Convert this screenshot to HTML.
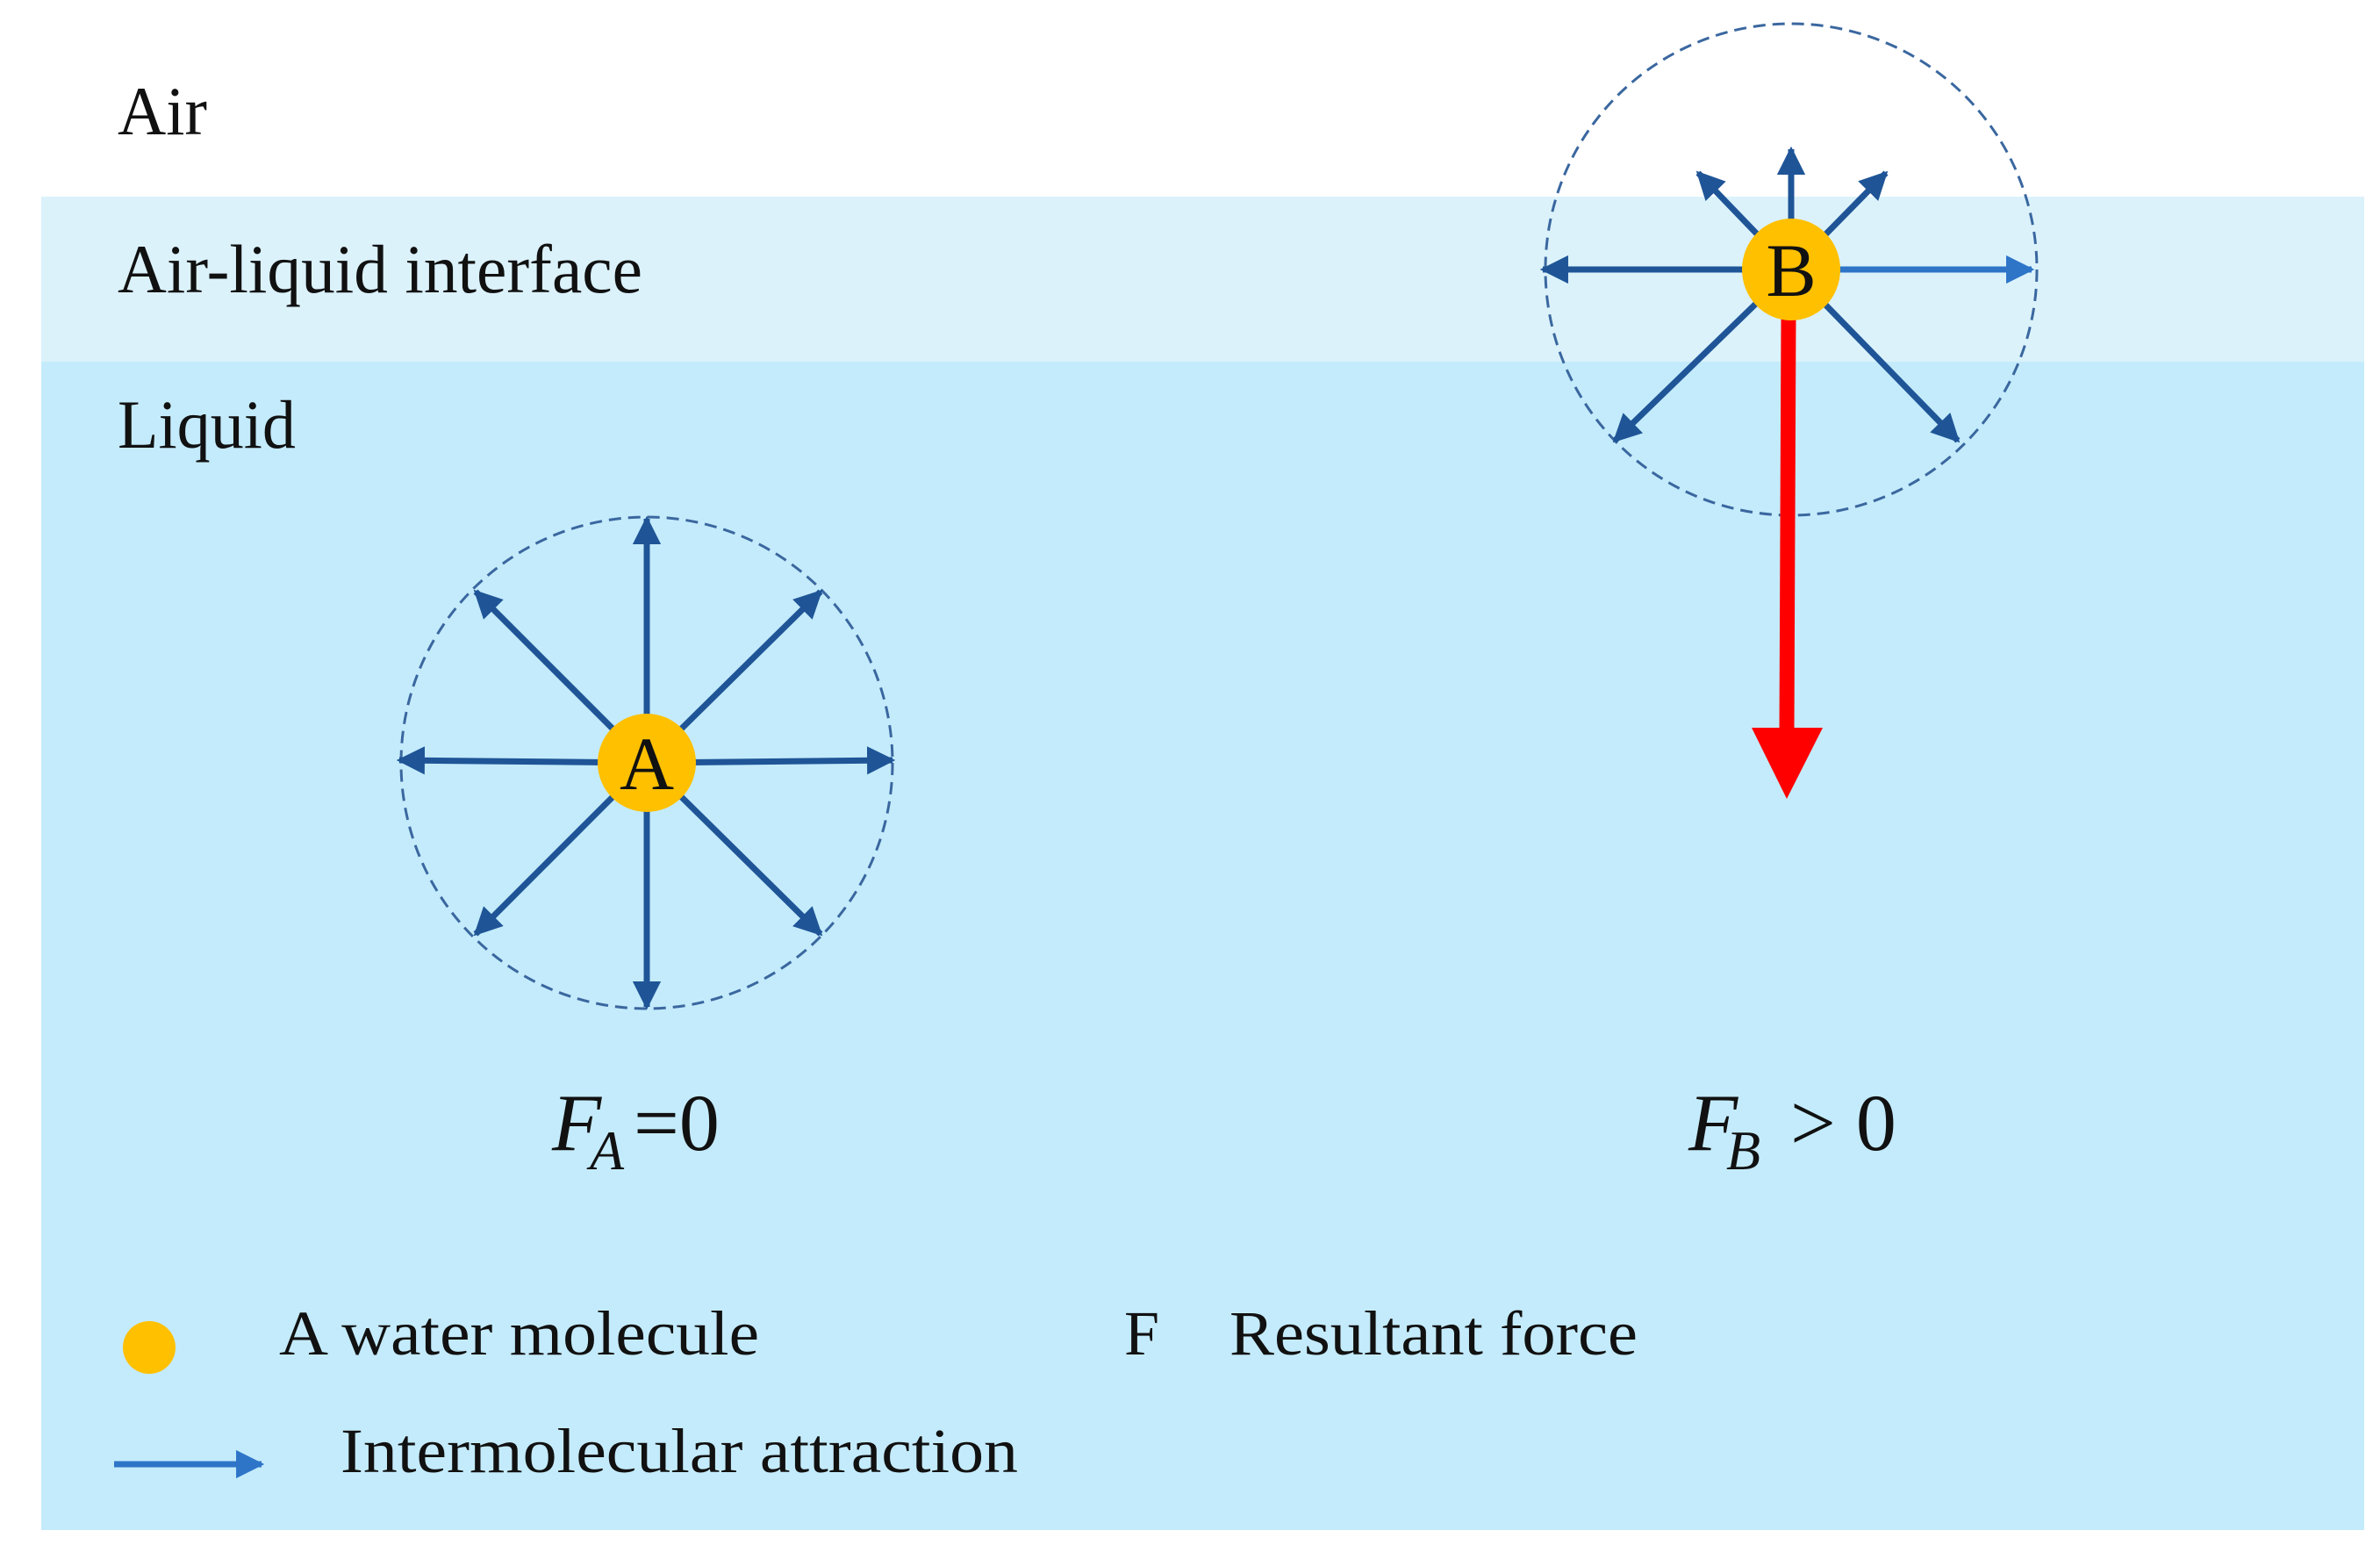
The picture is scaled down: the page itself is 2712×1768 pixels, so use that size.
<!DOCTYPE html>
<html><head><meta charset="utf-8"><style>html,body{margin:0;padding:0;background:#fff}svg{display:block}</style></head>
<body>
<svg width="2712" height="1768" viewBox="0 0 2712 1768" xmlns="http://www.w3.org/2000/svg">
<defs>
<marker id="ah" viewBox="0 0 10 10" refX="9" refY="5" markerWidth="4.6" markerHeight="4.6" orient="auto" markerUnits="strokeWidth"><path d="M0,0 L10,5 L0,10 z" fill="#1f5597"/></marker>
<marker id="ah2" viewBox="0 0 10 10" refX="9" refY="5" markerWidth="4.6" markerHeight="4.6" orient="auto" markerUnits="strokeWidth"><path d="M0,0 L10,5 L0,10 z" fill="#2e75c8"/></marker>
</defs>
<rect x="47" y="224" width="2647" height="189" fill="#dbf2fb"/>
<rect x="47" y="412" width="2647" height="1331" fill="#c4ebfb"/>
<g font-family="Liberation Serif, serif" fill="#111">
<text x="134" y="153" font-size="78" textLength="102" lengthAdjust="spacingAndGlyphs">Air</text>
<text x="134" y="333" font-size="78" textLength="598" lengthAdjust="spacingAndGlyphs">Air-liquid  interface</text>
<text x="134" y="510" font-size="78" textLength="203" lengthAdjust="spacingAndGlyphs">Liquid</text>
</g>
<!-- A -->
<circle cx="737" cy="869" r="280" fill="none" stroke="#3a679f" stroke-width="3" stroke-dasharray="14,8"/>
<g stroke="#1f5597" stroke-width="7" marker-end="url(#ah)">
<line x1="737" y1="869" x2="737" y2="591"/>
<line x1="737" y1="869" x2="737" y2="1147"/>
<line x1="737" y1="869" x2="455" y2="866"/>
<line x1="737" y1="869" x2="1017" y2="866"/>
<line x1="737" y1="869" x2="542" y2="674"/>
<line x1="737" y1="869" x2="935" y2="674"/>
<line x1="737" y1="869" x2="542" y2="1064"/>
<line x1="737" y1="869" x2="935" y2="1064"/>
</g>
<circle cx="737" cy="869" r="56" fill="#ffc000"/>
<text x="737" y="899" font-family="Liberation Serif, serif" font-size="86" text-anchor="middle" fill="#111">A</text>
<!-- B -->
<circle cx="2041" cy="307" r="280" fill="none" stroke="#3a679f" stroke-width="3" stroke-dasharray="14,8"/>
<g stroke="#1f5597" stroke-width="7" marker-end="url(#ah)">
<line x1="2041" y1="307" x2="2041" y2="170"/>
<line x1="2041" y1="307" x2="1935" y2="197"/>
<line x1="2041" y1="307" x2="2149" y2="197"/>
<line x1="2041" y1="307" x2="1758" y2="307"/>
<line x1="2041" y1="307" x2="1840" y2="502"/>
<line x1="2041" y1="307" x2="2231" y2="502"/>
</g>
<line x1="2041" y1="307" x2="2315" y2="307" stroke="#2e75c8" stroke-width="7" marker-end="url(#ah2)"/>
<line x1="2038" y1="360" x2="2036" y2="835" stroke="#ff0000" stroke-width="17"/>
<polygon points="1996,829 2077,829 2036,910" fill="#ff0000"/>
<ellipse cx="2041" cy="307" rx="56" ry="58" fill="#ffc000"/>
<text x="2041" y="337" font-family="Liberation Serif, serif" font-size="86" text-anchor="middle" fill="#111">B</text>
<!-- labels -->
<g font-family="Liberation Serif, serif" fill="#111">
<text x="629" y="1310" font-size="92" font-style="italic">F</text>
<text x="672" y="1332" font-size="64" font-style="italic">A</text>
<text x="722" y="1310" font-size="92">=0</text>
<text x="1924" y="1310" font-size="92" font-style="italic">F</text>
<text x="1967" y="1332" font-size="64" font-style="italic">B</text>
<text x="2040" y="1310" font-size="92">&gt; 0</text>
<text x="318" y="1543" font-size="72" textLength="547" lengthAdjust="spacingAndGlyphs">A water molecule</text>
<text x="1281" y="1543" font-size="72">F</text>
<text x="1401" y="1543" font-size="72" textLength="465" lengthAdjust="spacingAndGlyphs">Resultant  force</text>
<text x="388" y="1677" font-size="72" textLength="772" lengthAdjust="spacingAndGlyphs">Intermolecular  attraction</text>
</g>
<circle cx="170" cy="1535" r="30" fill="#ffc000"/>
<line x1="130" y1="1668" x2="298" y2="1668" stroke="#2e75c8" stroke-width="7" marker-end="url(#ah2)"/>
</svg>
</body></html>
